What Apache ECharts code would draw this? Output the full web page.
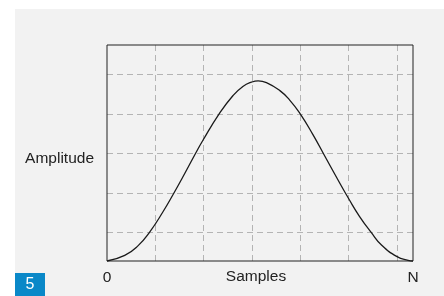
<!DOCTYPE html>
<html>
<head>
<meta charset="utf-8">
<script src="https://cdn.jsdelivr.net/npm/echarts@6/dist/echarts.min.js"></script>
<style>
  html, body { margin: 0; padding: 0; background: #fff; }
  #chart { width: 444px; height: 296px; }
</style>
</head>
<body>
<div id="chart"></div>
<script>
// curve: x = fraction of N samples, y = amplitude (fraction of frame height)
var samples = [0, 0.058, 0.101, 0.140, 0.183, 0.216, 0.254, 0.287, 0.314, 0.366, 0.412, 0.444, 0.472, 0.494,
  0.521, 0.564, 0.597, 0.632, 0.673, 0.717, 0.755, 0.790, 0.825, 0.864, 0.897, 0.948, 0.984, 1];
var amplitude = [0, 0.026, 0.070, 0.135, 0.228, 0.308, 0.405, 0.492, 0.560, 0.680, 0.766, 0.808, 0.828, 0.834,
  0.826, 0.790, 0.745, 0.680, 0.585, 0.472, 0.375, 0.288, 0.207, 0.131, 0.074, 0.020, 0.003, 0];
var xTickLabels = ['0', 'N'];

var points = [];
for (var i = 0; i < samples.length; i++) {
  points.push([samples[i], amplitude[i]]);
}

var font = '"Liberation Sans", Arial, sans-serif';
var gridLine = { show: true, showMinLine: false, showMaxLine: false, lineStyle: { color: '#b4b4b4', width: 1, type: [6, 4] } };

var myChart = echarts.init(document.getElementById('chart'));
var option = {
  animation: false,
  backgroundColor: '#ffffff',
  graphic: [
    { type: 'rect', z: -10, shape: { x: 15, y: 9, width: 429, height: 287 }, style: { fill: '#f2f2f2' } },
    { type: 'rect', z: 10, shape: { x: 15, y: 273, width: 30, height: 23 }, style: { fill: '#0a88c8' } },
    { type: 'text', z: 11, x: 30, y: 285, style: { text: '5', fill: '#ffffff', font: '16px ' + font, align: 'center', verticalAlign: 'middle' } }
  ],
  grid: {
    left: 107, top: 45, width: 306, height: 216, outerBoundsMode: 'none', containLabel: false,
    show: true, borderColor: '#222', borderWidth: 1, backgroundColor: 'transparent', z: 3
  },
  xAxis: [
    {
      type: 'value', min: 0, max: 1, interval: 1, position: 'bottom',
      axisLine: { show: false }, axisTick: { show: false }, splitLine: { show: false },
      axisLabel: {
        margin: 9, color: '#222', fontSize: 15.5, fontFamily: font,
        formatter: function (v) { return v === 0 ? xTickLabels[0] : xTickLabels[1]; }
      },
      name: 'Samples', nameLocation: 'middle', nameGap: 16, nameMoveOverlap: false,
      nameTextStyle: { color: '#222', fontSize: 15.5, fontFamily: font, verticalAlign: 'middle', padding: [0, 8, 0, 0] }
    },
    {
      type: 'value', min: 0, max: 6.33, interval: 1, position: 'top',
      axisLine: { show: false }, axisTick: { show: false }, axisLabel: { show: false },
      splitLine: gridLine
    }
  ],
  yAxis: [
    {
      type: 'value', min: 0, max: 1, position: 'left',
      axisLine: { show: false }, axisTick: { show: false }, axisLabel: { show: false }, splitLine: { show: false },
      name: 'Amplitude', nameLocation: 'middle', nameRotate: 0, nameGap: 13, nameMoveOverlap: false,
      nameTextStyle: { color: '#222', fontSize: 15.5, fontFamily: font, align: 'right', verticalAlign: 'top', lineHeight: 12 }
    },
    {
      type: 'value', min: -0.72, max: 4.74, minInterval: 1, maxInterval: 1, position: 'right',
      axisLine: { show: false }, axisTick: { show: false }, axisLabel: { show: false },
      splitLine: gridLine
    }
  ],
  series: [
    {
      type: 'line', xAxisIndex: 0, yAxisIndex: 0, data: points,
      smooth: 0.5, showSymbol: false, clip: false,
      lineStyle: { color: '#1a1a1a', width: 1.3 }
    }
  ]
};
myChart.setOption(option, true);
</script>
</body>
</html>
